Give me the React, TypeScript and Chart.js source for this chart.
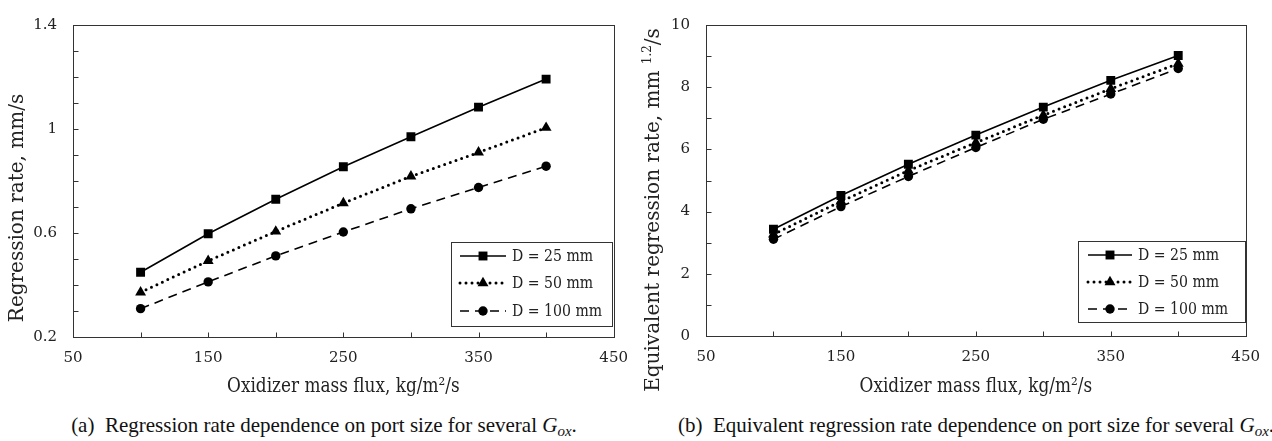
import React, { useEffect, useRef } from "react";
import { Chart, registerables } from "chart.js";

Chart.register(...registerables);

// ---------------- data ----------------
const fluxValues = [100, 150, 200, 250, 300, 350, 400];
const seriesLabels = ["D = 25 mm", "D = 50 mm", "D = 100 mm"];

const rateD25 = [0.449, 0.597, 0.73, 0.855, 0.97, 1.084, 1.192];
const rateD50 = [0.372, 0.493, 0.606, 0.715, 0.818, 0.91, 1.005];
const rateD100 = [0.309, 0.412, 0.512, 0.604, 0.693, 0.775, 0.857];

const eqRateD25 = [3.43, 4.52, 5.52, 6.46, 7.36, 8.22, 9.02];
const eqRateD50 = [3.27, 4.33, 5.32, 6.22, 7.1, 7.95, 8.76];
const eqRateD100 = [3.11, 4.16, 5.13, 6.06, 6.97, 7.78, 8.6];

const xTickLabels = ["50", "150", "250", "350", "450"];
const leftYTickLabels = ["0.2", "0.6", "1", "1.4"];
const rightYTickLabels = ["0", "2", "4", "6", "8", "10"];

const xAxisTitle = "Oxidizer mass flux, kg/m\u00b2/s";
const leftYTitleParts = [{ text: "Regression rate, mm/s", sup: false }];
const rightYTitleParts = [
  { text: "Equivalent regression rate, mm ", sup: false },
  { text: "1.2", sup: true },
  { text: "/s", sup: false },
];

// ---------------- style ----------------
const TEXT = "#222";
const FRAME = "#333";
const SERIF = '"DejaVu Serif", serif';

const seriesStyles = [
  { borderWidth: 1.6, borderDash: [] as number[], cap: "butt", pointStyle: "rect", pointRadius: 6.3 },
  { borderWidth: 3, borderDash: [0, 6], cap: "round", pointStyle: "triangle", pointRadius: 6.3 },
  { borderWidth: 1.6, borderDash: [9, 6], cap: "butt", pointStyle: "circle", pointRadius: 4.7 },
];

type Panel = {
  series: number[][];
  yMin: number;
  yMax: number;
  yStep: number;
  yLabels: string[];
  yTitle: { text: string; sup: boolean }[];
  area: { left: number; top: number; right: number; bottom: number };
  canvasW: number;
  canvasH: number;
  yTitleX: number;
  yTitleCY: number;
  legend: { box: [number, number, number, number]; rows: number[]; line: [number, number]; textX: number };
};

function drawMarker(ctx: CanvasRenderingContext2D, style: string, x: number, y: number, r: number) {
  ctx.beginPath();
  if (style === "rect") {
    const s = Math.SQRT1_2 * r;
    ctx.rect(x - s, y - s, 2 * s, 2 * s);
  } else if (style === "triangle") {
    ctx.moveTo(x, y - r);
    ctx.lineTo(x + r * Math.sin(Math.PI * 2 / 3), y + r * 0.5);
    ctx.lineTo(x - r * Math.sin(Math.PI * 2 / 3), y + r * 0.5);
    ctx.closePath();
  } else {
    ctx.arc(x, y, r, 0, Math.PI * 2);
  }
  ctx.fill();
}

function makeDecorPlugin(p: Panel) {
  return {
    id: "decor",
    beforeDatasetsDraw(chart: any) {
      const { ctx, chartArea: a, scales } = chart;
      ctx.save();
      ctx.strokeStyle = FRAME;
      ctx.lineWidth = 1;
      const L = Math.round(a.left) + 0.5;
      const T = Math.round(a.top) + 0.5;
      const R = Math.round(a.right) + 0.5;
      const B = Math.round(a.bottom) + 0.5;
      ctx.strokeRect(L, T, R - L, B - T);
      ctx.beginPath();
      const yt = scales.y.ticks;
      for (let i = 1; i < yt.length - 1; i++) {
        const py = Math.round(scales.y.getPixelForValue(yt[i].value)) + 0.5;
        ctx.moveTo(L, py);
        ctx.lineTo(L + 5, py);
      }
      const xt = scales.x.ticks;
      for (let i = 1; i < xt.length - 1; i++) {
        const px = Math.round(scales.x.getPixelForValue(xt[i].value)) + 0.5;
        ctx.moveTo(px, B);
        ctx.lineTo(px, B - 5);
      }
      ctx.stroke();
      ctx.restore();
    },
    afterDraw(chart: any) {
      const { ctx, chartArea: a } = chart;
      ctx.save();
      ctx.fillStyle = TEXT;
      // x title (condensed)
      ctx.font = `20px ${SERIF}`;
      ctx.textAlign = "center";
      ctx.textBaseline = "alphabetic";
      ctx.save();
      ctx.translate((a.left + a.right) / 2, 392);
      ctx.scale(0.845, 1);
      ctx.fillText(xAxisTitle, 0, 0);
      ctx.restore();

      // y title (rotated, with superscript support)
      const mainFont = `20px ${SERIF}`;
      const supFont = `12px ${SERIF}`;
      let total = 0;
      const widths = p.yTitle.map((part) => {
        ctx.font = part.sup ? supFont : mainFont;
        const w = ctx.measureText(part.text).width;
        total += w;
        return w;
      });
      ctx.save();
      ctx.translate(p.yTitleX, p.yTitleCY);
      ctx.rotate(-Math.PI / 2);
      ctx.textAlign = "left";
      let cx = -total / 2;
      p.yTitle.forEach((part, i) => {
        ctx.font = part.sup ? supFont : mainFont;
        ctx.fillText(part.text, cx, part.sup ? -8 : 0);
        cx += widths[i];
      });
      ctx.restore();

      // legend
      const lg = p.legend;
      ctx.fillStyle = "#fff";
      ctx.fillRect(lg.box[0], lg.box[1], lg.box[2] - lg.box[0], lg.box[3] - lg.box[1]);
      ctx.strokeStyle = FRAME;
      ctx.lineWidth = 1;
      ctx.strokeRect(lg.box[0] + 0.5, lg.box[1] + 0.5, lg.box[2] - lg.box[0], lg.box[3] - lg.box[1]);
      chart.data.datasets.forEach((ds: any, i: number) => {
        const st = seriesStyles[i];
        const ry = lg.rows[i];
        ctx.save();
        ctx.strokeStyle = "#000";
        ctx.lineWidth = st.borderWidth;
        ctx.lineCap = st.cap as CanvasLineCap;
        ctx.setLineDash(st.borderDash);
        ctx.beginPath();
        ctx.moveTo(lg.line[0], ry);
        ctx.lineTo(lg.line[1], ry);
        ctx.stroke();
        ctx.restore();
        ctx.fillStyle = "#000";
        drawMarker(ctx, st.pointStyle, (lg.line[0] + lg.line[1]) / 2, ry, st.pointRadius);
        ctx.save();
        ctx.fillStyle = TEXT;
        ctx.font = `16px ${SERIF}`;
        ctx.textAlign = "left";
        ctx.textBaseline = "middle";
        ctx.translate(lg.textX, ry + 1);
        ctx.scale(0.88, 1);
        ctx.fillText(ds.label, 0, 0);
        ctx.restore();
      });
      ctx.restore();
    },
  };
}

function ChartPanel({ p }: { p: Panel }) {
  const ref = useRef<HTMLCanvasElement | null>(null);
  useEffect(() => {
    if (!ref.current) return;
    const datasets = p.series.map((vals, i) => {
      const st = seriesStyles[i];
      return {
        label: seriesLabels[i],
        data: fluxValues.map((x, j) => ({ x, y: vals[j] })),
        borderColor: "#000",
        backgroundColor: "#000",
        borderWidth: st.borderWidth,
        borderDash: st.borderDash,
        borderCapStyle: st.cap,
        pointStyle: st.pointStyle,
        pointRadius: st.pointRadius,
        pointBorderWidth: 0,
        pointBackgroundColor: "#000",
        tension: 0,
        fill: false,
      };
    });
    const chart = new Chart(ref.current, {
      type: "line",
      data: { datasets } as any,
      plugins: [makeDecorPlugin(p)],
      options: {
        animation: false,
        responsive: false,
        maintainAspectRatio: false,
        layout: {
          padding: {
            left: 0,
            top: p.area.top,
            right: p.canvasW - p.area.right,
            bottom: 0,
          },
        },
        plugins: { legend: { display: false }, tooltip: { enabled: false } },
        scales: {
          x: {
            type: "linear",
            min: 50,
            max: 450,
            grid: { display: false, drawTicks: false },
            border: { display: false },
            afterFit: (s: any) => {
              s.height = p.canvasH - p.area.bottom;
            },
            ticks: {
              stepSize: 50,
              autoSkip: false,
              maxRotation: 0,
              padding: 12,
              color: TEXT,
              font: { family: SERIF, size: 15 },
              callback: (v: any) => (xTickLabels.includes(String(v)) ? String(v) : ""),
            },
          },
          y: {
            type: "linear",
            min: p.yMin,
            max: p.yMax,
            grid: { display: false, drawTicks: false },
            border: { display: false },
            afterFit: (s: any) => {
              s.width = p.area.left;
            },
            ticks: {
              stepSize: p.yStep,
              autoSkip: false,
              padding: 16,
              color: TEXT,
              font: { family: SERIF, size: 15 },
              callback: (v: any) => {
                const s = String(Math.round(Number(v) * 10) / 10);
                return p.yLabels.includes(s) ? s : "";
              },
            },
          },
        },
      } as any,
    });
    return () => chart.destroy();
  }, [p]);
  return <canvas ref={ref} width={p.canvasW} height={p.canvasH} style={{ display: "block", width: p.canvasW, height: p.canvasH }} />;
}

const leftPanel: Panel = {
  series: [rateD25, rateD50, rateD100],
  yMin: 0.2,
  yMax: 1.4,
  yStep: 0.1,
  yLabels: leftYTickLabels,
  yTitle: leftYTitleParts,
  area: { left: 73, top: 12, right: 622, bottom: 337 },
  canvasW: 640,
  canvasH: 400,
  yTitleX: 23,
  yTitleCY: 208,
  legend: { box: [451, 242, 612, 326], rows: [256, 283, 311], line: [460, 506], textX: 512 },
};

const rightPanel: Panel = {
  series: [eqRateD25, eqRateD50, eqRateD100],
  yMin: 0,
  yMax: 10,
  yStep: 1,
  yLabels: rightYTickLabels,
  yTitle: rightYTitleParts,
  area: { left: 66, top: 14, right: 608, bottom: 336 },
  canvasW: 632,
  canvasH: 400,
  yTitleX: 19,
  yTitleCY: 210,
  legend: { box: [438, 241, 605, 322], rows: [255, 282, 309], line: [448, 492], textX: 498 },
};

const captionStyle: React.CSSProperties = {
  position: "absolute",
  top: 412,
  width: 640,
  textAlign: "center",
  fontFamily: '"Liberation Serif", "Times New Roman", serif',
  fontSize: 21,
  lineHeight: "26px",
  color: "#111",
  whiteSpace: "nowrap",
};

function Gox() {
  return (
    <span>
      <i>G</i>
      <i style={{ fontSize: 15, position: "relative", top: 4 }}>ox</i>
    </span>
  );
}

export default function App() {
  return (
    <div style={{ position: "relative", width: 1272, height: 441, background: "#fff", overflow: "hidden" }}>
      <style>{`body{margin:0}`}</style>
      <div style={{ position: "absolute", left: 0, top: 0 }}>
        <ChartPanel p={leftPanel} />
      </div>
      <div style={{ position: "absolute", left: 640, top: 0 }}>
        <ChartPanel p={rightPanel} />
      </div>
      <div style={{ ...captionStyle, left: 4 }}>
        (a)&nbsp; Regression rate dependence on port size for several <Gox />.
      </div>
      <div style={{ ...captionStyle, left: 656 }}>
        (b)&nbsp; Equivalent regression rate dependence on port size for several <Gox />.
      </div>
    </div>
  );
}
